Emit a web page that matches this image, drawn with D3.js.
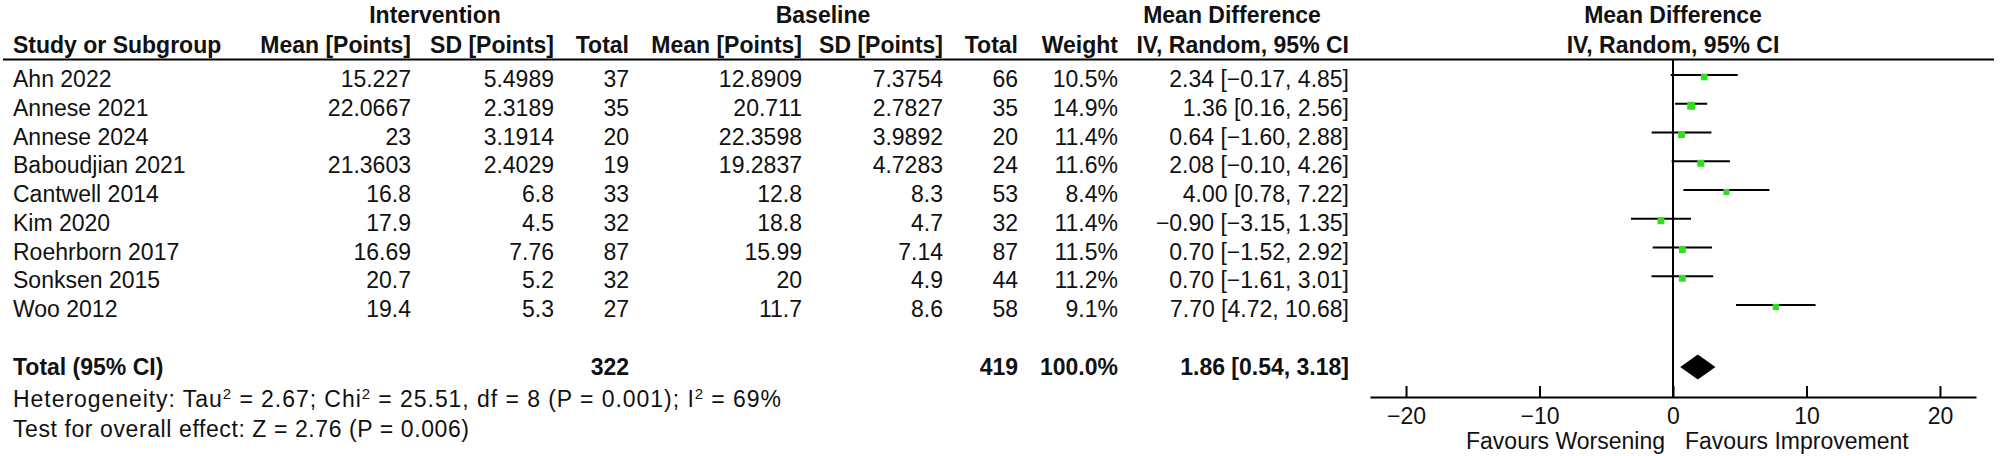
<!DOCTYPE html>
<html>
<head>
<meta charset="utf-8">
<script src="https://cdn.jsdelivr.net/npm/d3@7"></script>
<style>
  html, body { margin: 0; padding: 0; background: #fff; }
  svg { display: block; }
  text { font-family: "Liberation Sans", Arial, sans-serif; font-size: 23px; fill: #111; }
  .b { font-weight: bold; }
</style>
</head>
<body>
<svg id="chart" width="2000" height="456"></svg>
<script>
// ---------------- data ----------------
const studies    = ["Ahn 2022","Annese 2021","Annese 2024","Baboudjian 2021","Cantwell 2014","Kim 2020","Roehrborn 2017","Sonksen 2015","Woo 2012"];
const intMean    = [15.227, 22.0667, 23, 21.3603, 16.8, 17.9, 16.69, 20.7, 19.4];
const intSD      = [5.4989, 2.3189, 3.1914, 2.4029, 6.8, 4.5, 7.76, 5.2, 5.3];
const intTotal   = [37, 35, 20, 19, 33, 32, 87, 32, 27];
const baseMean   = [12.8909, 20.711, 22.3598, 19.2837, 12.8, 18.8, 15.99, 20, 11.7];
const baseSD     = [7.3754, 2.7827, 3.9892, 4.7283, 8.3, 4.7, 7.14, 4.9, 8.6];
const baseTotal  = [66, 35, 20, 24, 53, 32, 87, 44, 58];
const weights    = [10.5, 14.9, 11.4, 11.6, 8.4, 11.4, 11.5, 11.2, 9.1];
const md         = [2.34, 1.36, 0.64, 2.08, 4.00, -0.90, 0.70, 0.70, 7.70];
const ciLow      = [-0.17, 0.16, -1.60, -0.10, 0.78, -3.15, -1.52, -1.61, 4.72];
const ciHigh     = [4.85, 2.56, 2.88, 4.26, 7.22, 1.35, 2.92, 3.01, 10.68];
const totalInt   = 322;
const totalBase  = 419;
const totalWeight = 100.0;
const pooled     = [1.86, 0.54, 3.18];   // estimate, low, high
const axisTicks  = [-20, -10, 0, 10, 20];
const axisExtent = [-22.7, 22.7];
const favLeft    = "Favours Worsening";
const favRight   = "Favours Improvement";

// ---------------- layout ----------------
const svg = d3.select("#chart");
const fmt2 = v => d3.format(".2f")(v).replace("-", "\u2212");
const ciText = (m, l, h) => `${fmt2(m)} [${fmt2(l)}, ${fmt2(h)}]`;

const y = d3.scalePoint().domain(studies).range([79, 309]);
const x = d3.scaleLinear().domain(axisExtent).range([1370, 1976]);

const cols = [
  { key: "im", x: 411 }, { key: "is", x: 554 }, { key: "it", x: 629 },
  { key: "bm", x: 802 }, { key: "bs", x: 943 }, { key: "bt", x: 1018 },
  { key: "w",  x: 1118 }, { key: "ci", x: 1349 }
];
const colX = Object.fromEntries(cols.map(c => [c.key, c.x]));

// header row 1
const h1 = svg.append("g").attr("class", "b");
h1.append("text").attr("x", 435).attr("y", 15).attr("dy", "0.35em").attr("text-anchor", "middle").text("Intervention");
h1.append("text").attr("x", 823).attr("y", 15).attr("dy", "0.35em").attr("text-anchor", "middle").text("Baseline");
h1.append("text").attr("x", 1232).attr("y", 15).attr("dy", "0.35em").attr("text-anchor", "middle").text("Mean Difference");
h1.append("text").attr("x", x(0)).attr("y", 15).attr("dy", "0.35em").attr("text-anchor", "middle").text("Mean Difference");

// header row 2
const h2 = svg.append("g").attr("class", "b");
h2.append("text").attr("x", 13).attr("y", 45).attr("dy", "0.35em").text("Study or Subgroup");
const hdr2 = [["im","Mean [Points]"],["is","SD [Points]"],["it","Total"],["bm","Mean [Points]"],["bs","SD [Points]"],["bt","Total"],["w","Weight"],["ci","IV, Random, 95% CI"]];
hdr2.forEach(([k, t]) => h2.append("text").attr("x", colX[k]).attr("y", 45).attr("dy", "0.35em").attr("text-anchor", "end").text(t));
h2.append("text").attr("x", x(0)).attr("y", 45).attr("dy", "0.35em").attr("text-anchor", "middle").text("IV, Random, 95% CI");

// header line
svg.append("line").attr("x1", 3).attr("x2", 1994).attr("y1", 59.5).attr("y2", 59.5)
  .attr("stroke", "#000").attr("stroke-width", 2);

// study rows
const rows = studies.map((s, i) => ({
  s, im: String(intMean[i]), is: String(intSD[i]), it: String(intTotal[i]),
  bm: String(baseMean[i]), bs: String(baseSD[i]), bt: String(baseTotal[i]),
  w: d3.format(".1f")(weights[i]) + "%", ci: ciText(md[i], ciLow[i], ciHigh[i]),
  md: md[i], lo: ciLow[i], hi: ciHigh[i], wt: weights[i]
}));

const rg = svg.append("g").selectAll("g").data(rows).join("g")
  .attr("transform", d => `translate(0,${y(d.s)})`);
rg.append("text").attr("x", 13).attr("dy", "0.35em").text(d => d.s);
cols.forEach(c => {
  rg.append("text").attr("x", c.x).attr("dy", "0.35em").attr("text-anchor", "end").text(d => d[c.key]);
});

// total row
const ty = 367;
const tg = svg.append("g").attr("class", "b");
tg.append("text").attr("x", 13).attr("y", ty).attr("dy", "0.35em").text("Total (95% CI)");
tg.append("text").attr("x", colX.it).attr("y", ty).attr("dy", "0.35em").attr("text-anchor", "end").text(totalInt);
tg.append("text").attr("x", colX.bt).attr("y", ty).attr("dy", "0.35em").attr("text-anchor", "end").text(totalBase);
tg.append("text").attr("x", colX.w).attr("y", ty).attr("dy", "0.35em").attr("text-anchor", "end").text(d3.format(".1f")(totalWeight) + "%");
tg.append("text").attr("x", colX.ci).attr("y", ty).attr("dy", "0.35em").attr("text-anchor", "end").text(ciText(pooled[0], pooled[1], pooled[2]));

// footer text
const het = svg.append("text").attr("x", 13).attr("y", 399).attr("dy", "0.35em")
  .attr("textLength", 768).attr("lengthAdjust", "spacing");
het.append("tspan").text("Heterogeneity: Tau");
het.append("tspan").attr("baseline-shift", "super").style("font-size", "15px").text("2");
het.append("tspan").text(" = 2.67; Chi");
het.append("tspan").attr("baseline-shift", "super").style("font-size", "15px").text("2");
het.append("tspan").text(" = 25.51, df = 8 (P = 0.001); I");
het.append("tspan").attr("baseline-shift", "super").style("font-size", "15px").text("2");
het.append("tspan").text(" = 69%");
svg.append("text").attr("x", 13).attr("y", 429).attr("dy", "0.35em")
  .attr("textLength", 456).attr("lengthAdjust", "spacing")
  .text("Test for overall effect: Z = 2.76 (P = 0.006)");

// ---------------- forest plot ----------------
const axisY = 397;
// zero line
svg.append("line").attr("x1", x(0)).attr("x2", x(0)).attr("y1", 60).attr("y2", axisY)
  .attr("stroke", "#000").attr("stroke-width", 2);

// CIs
const fg = svg.append("g").selectAll("g").data(rows).join("g")
  .attr("transform", d => `translate(0,${y(d.s)})`);
fg.append("line").attr("x1", d => x(d.lo)).attr("x2", d => x(d.hi)).attr("y1", -4).attr("y2", -4)
  .attr("stroke", "#000").attr("stroke-width", 2);
fg.append("rect")
  .attr("width", d => 3.5 + d.wt * 0.3).attr("height", d => 3.5 + d.wt * 0.3)
  .attr("x", d => x(d.md) - (3.5 + d.wt * 0.3) / 2)
  .attr("y", d => -2 - (3.5 + d.wt * 0.3) / 2)
  .attr("fill", "#33dd22");

// diamond
const dh = 12.5;
svg.append("path")
  .attr("d", `M${x(pooled[1])},${ty}L${x(pooled[0])},${ty - dh}L${x(pooled[2])},${ty}L${x(pooled[0])},${ty + dh}Z`)
  .attr("fill", "#000");

// axis
const ax = svg.append("g").attr("transform", `translate(0,${axisY})`)
  .call(d3.axisBottom(x).tickValues(axisTicks).tickSizeInner(-11).tickSizeOuter(0).tickPadding(8)
    .tickFormat(d => String(d).replace("-", "\u2212")));
ax.select(".domain").attr("stroke", "#000").attr("stroke-width", 2);
ax.selectAll(".tick line").attr("stroke", "#000").attr("stroke-width", 2);
ax.selectAll(".tick text").attr("font-family", null).attr("font-size", null).attr("fill", null)
  .attr("y", 19).attr("dy", "0.35em");

svg.append("text").attr("x", x(0) - 8).attr("y", 441).attr("dy", "0.35em").attr("text-anchor", "end").text(favLeft);
svg.append("text").attr("x", x(0) + 12).attr("y", 441).attr("dy", "0.35em").text(favRight);
</script>
</body>
</html>
